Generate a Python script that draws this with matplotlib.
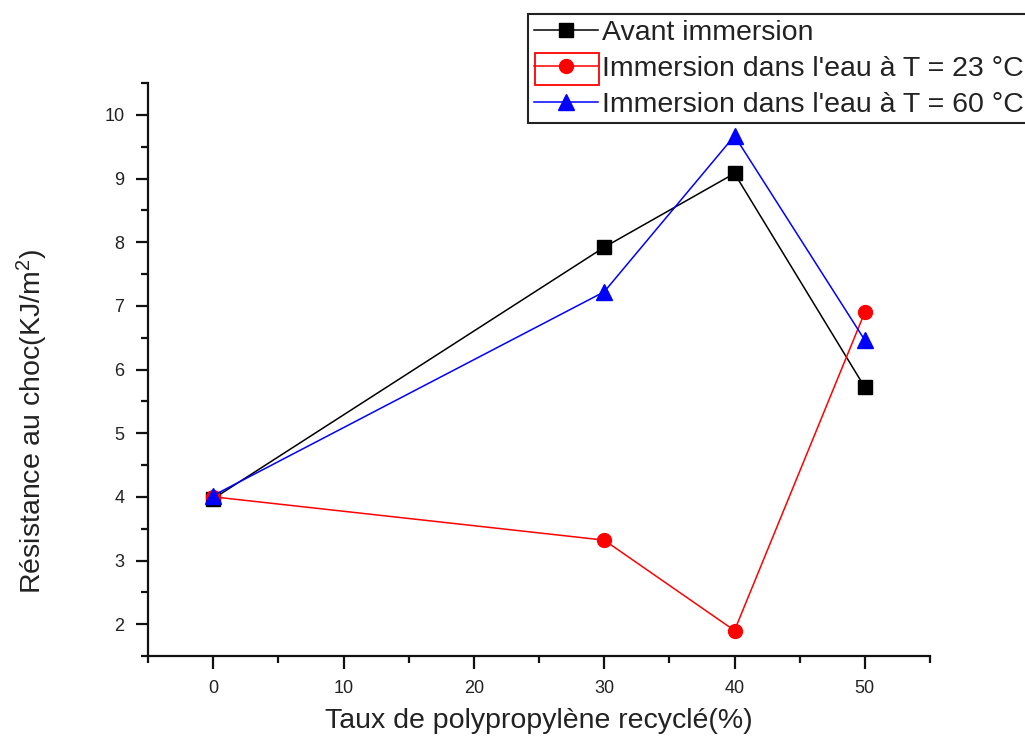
import matplotlib
matplotlib.use("Agg")
import matplotlib.pyplot as plt
from matplotlib.ticker import MultipleLocator
from matplotlib.patches import Rectangle

plt.rcParams['font.family'] = ['Liberation Sans', 'DejaVu Sans']
plt.rcParams['mathtext.fontset'] = 'custom'
plt.rcParams['mathtext.rm'] = 'Liberation Sans'
plt.rcParams['mathtext.it'] = 'Liberation Sans'

# Taux de PP recyclé (%) et résistance au choc (kJ/m²)
taux = [0, 30, 40, 50]
avant = [3.97, 7.92, 9.08, 5.72]
eau_23 = [4.00, 3.32, 1.90, 6.90]
eau_60 = [4.02, 7.22, 9.67, 6.46]
labels = ["Avant immersion",
          "Immersion dans l'eau à T = 23 °C",
          "Immersion dans l'eau à T = 60 °C"]

TXT = '#222222'

fig = plt.figure(figsize=(10.25, 7.38), dpi=100)
ax = fig.add_axes([148/1025, 1 - 656/738, (930-148)/1025, (656-83)/738])

l1, = ax.plot(taux, avant, color='black', lw=1.1, marker='s', ms=9.5,
              markeredgecolor='black', label=labels[0])
l2, = ax.plot(taux, eau_23, color='red', lw=1.1, marker='o', ms=10,
              markeredgecolor='red', label=labels[1])
l3, = ax.plot(taux, eau_60, color='blue', lw=1.1, marker='^', ms=11,
              markeredgecolor='blue', label=labels[2])

ax.set_xlim(-5, 55)
ax.set_ylim(1.5, 10.5)
ax.xaxis.set_major_locator(MultipleLocator(10))
ax.xaxis.set_minor_locator(MultipleLocator(5))
ax.yaxis.set_major_locator(MultipleLocator(1))
ax.yaxis.set_minor_locator(MultipleLocator(0.5))
ax.set_xticks([0, 10, 20, 30, 40, 50])
ax.set_yticks([2, 3, 4, 5, 6, 7, 8, 9, 10])

for s in ['top', 'right']:
    ax.spines[s].set_visible(False)
for s in ['left', 'bottom']:
    ax.spines[s].set_linewidth(1.6)
    ax.spines[s].set_color('#111111')

ax.tick_params(which='major', direction='out', length=9, width=1.6,
               labelsize=13, labelcolor=TXT, color='#111111', pad=8)
ax.tick_params(which='minor', direction='out', length=5, width=1.6,
               color='#111111')

ax.set_xlabel("Taux de polypropylène recyclé(%)", fontsize=20.5,
              color=TXT, labelpad=8)
ax.set_ylabel("Résistance au choc(KJ/m$^2$)", fontsize=20.5, color=TXT)
ax.yaxis.set_label_coords(-0.125, 0.41)

leg = fig.legend(handles=[l1, l2, l3], loc='upper left',
                 bbox_to_anchor=(528/1025, 1 - 14/738),
                 fontsize=20.5, frameon=True, fancybox=False, framealpha=1,
                 handlelength=2.25, handletextpad=0.15, borderpad=0.2,
                 labelspacing=0.35, borderaxespad=0)
leg.get_frame().set_edgecolor(TXT)
leg.get_frame().set_linewidth(1.5)
for t in leg.get_texts():
    t.set_color(TXT)

# cadre rouge autour du symbole de la deuxième série
fig.add_artist(Rectangle((535/1025, 1 - 85/738), 64/1025, 32/738,
                         transform=fig.transFigure, fill=False,
                         edgecolor='red', lw=1.3, zorder=10))

fig.savefig("out.png", dpi=100)
